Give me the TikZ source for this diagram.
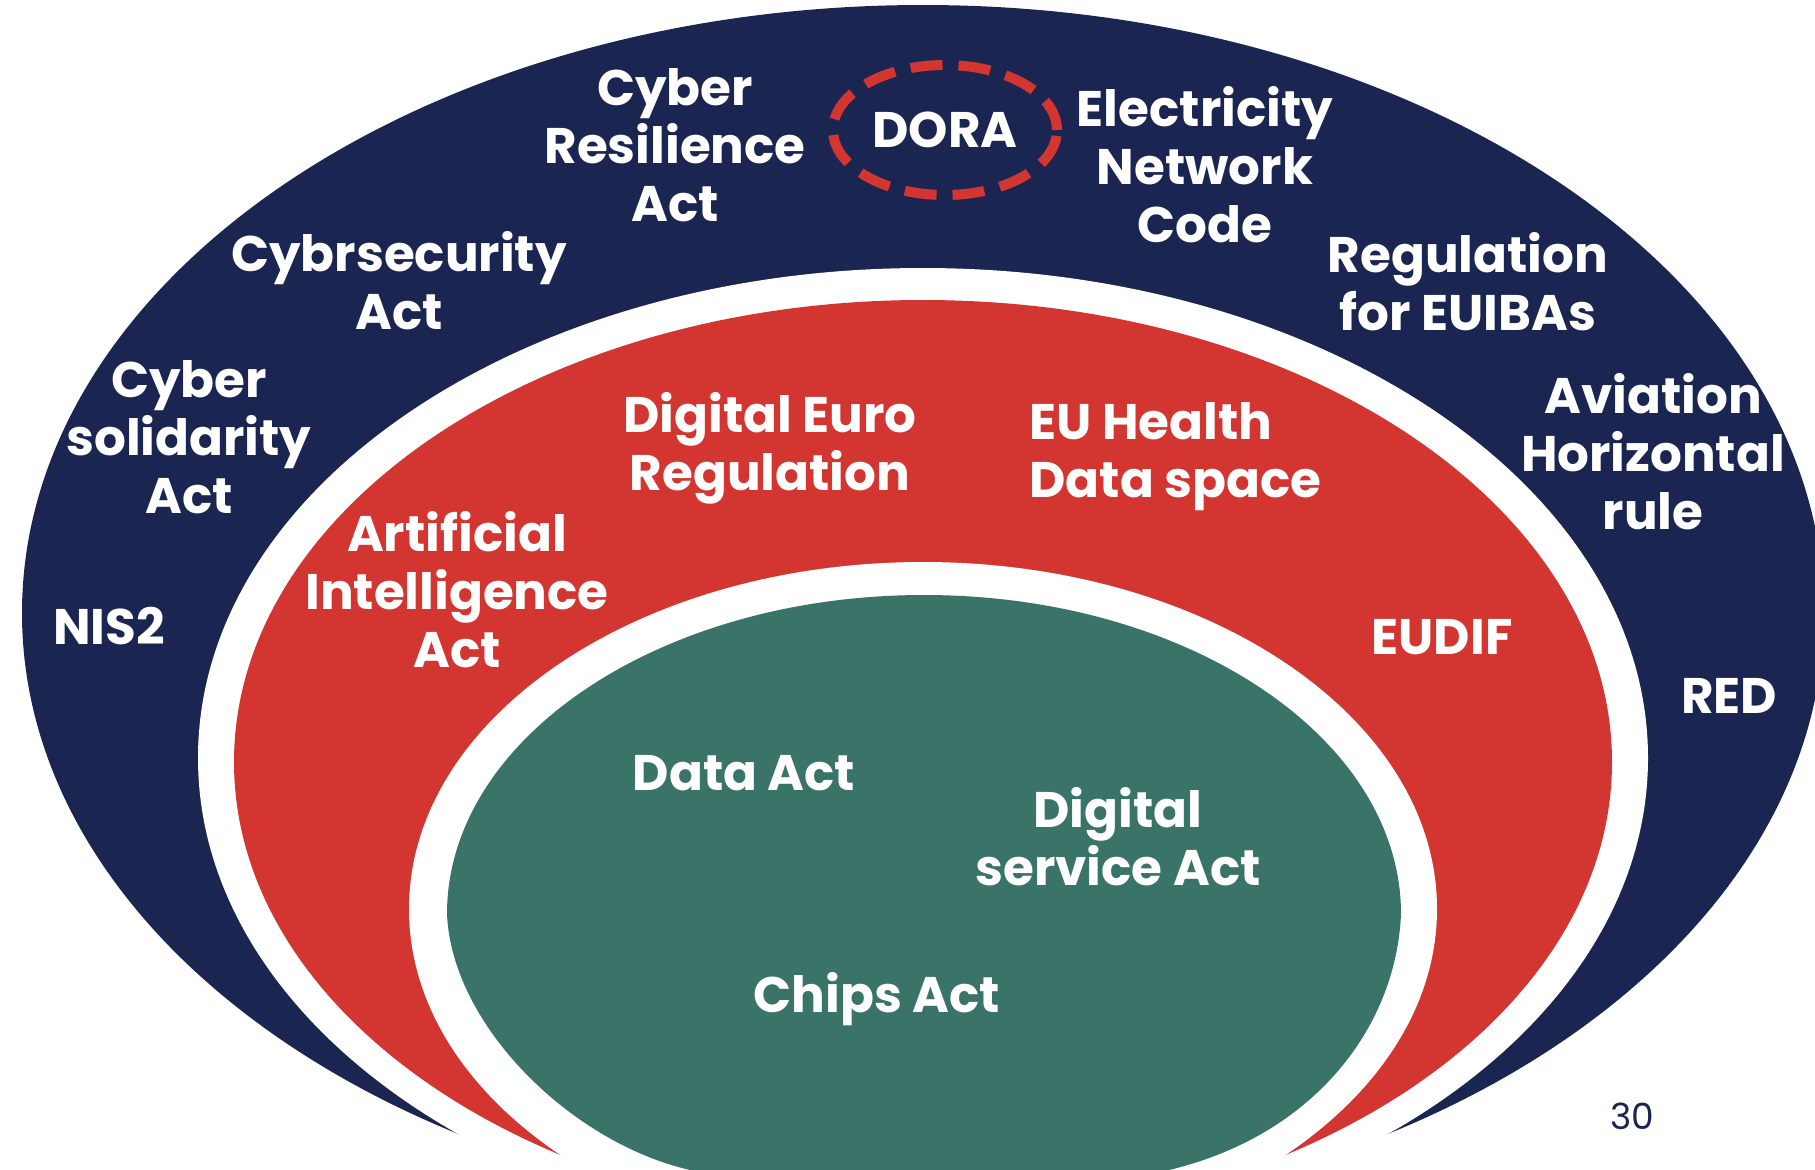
\documentclass[tikz,border=0pt]{standalone}
\usepackage{fontspec}
\setmainfont{Poppins}
\usetikzlibrary{shapes.geometric}
\definecolor{navy}{HTML}{1B2552}
\definecolor{euRed}{HTML}{D33631}
\definecolor{sea}{HTML}{3A7367}
\begin{document}
\begin{tikzpicture}[x=0.5pt,y=-0.5pt,line join=round,
		lbl/.style={text=white,font=\bfseries\fontsize{25}{29}\selectfont,align=center,inner sep=0pt}]
	\useasboundingbox (0,0) rectangle (1815,1169);
	\clip (0,0) rectangle (1815,1169);
	% rings, outside in
	\foreach \c/\cy/\a/\b in {navy/613/901/608,white/758/725/490,euRed/762/689/462,white/909/514/347}{\fill[\c] (923,\cy) ellipse [x radius=\a, y radius=\b];}
	\fill[sea] (447,914) arc [start angle=180, end angle=360, x radius=477, y radius=319]
		.. controls (1396,1030) and (1310,1140) .. (1160,1172)
		-- (700,1172)
		.. controls (580,1150) and (452,1030) .. (447,914) -- cycle;
	% outer ring
	\node[lbl] (cra) at (675,145) {Cyber\\Resilience\\Act};
	\node[lbl,ellipse,draw=euRed,line width=5pt,dash pattern=on 16pt off 8pt,minimum width=112pt,minimum height=65pt] (dora) at (945,130) {DORA};
	\node[lbl] (elec) at (1205,165) {Electricity\\Network\\Code};
	\node[lbl] (euiba) at (1468,282) {Regulation\\for EUIBAs};
	\node[lbl] (avia) at (1653,452) {Aviation\\Horizontal\\rule};
	\node[lbl] (red) at (1729,696) {RED};
	\node[lbl] (cybsec) at (399,281) {Cybrsecurity\\Act};
	\node[lbl] (solid) at (189,437) {Cyber\\solidarity\\Act};
	\node[lbl] (nis) at (109,626) {NIS2};
	% middle ring
	\node[lbl] (euro) at (770,448) {Digital Euro\\Regulation};
	\node[lbl,anchor=west,align=left] (health) at (1029,457) {EU Health\\Data space};
	\node[lbl] (ai) at (457,590) {Artificial\\Intelligence\\Act};
	\node[lbl] (eudif) at (1442,637) {EUDIF};
	% core
	\node[lbl] (data) at (744,773) {Data Act};
	\node[lbl] (dsa) at (1118,837) {Digital\\service Act};
	\node[lbl] (chips) at (877,999) {Chips Act};
	\node[text=navy,font=\fontsize{18}{20}\selectfont] (page) at (1632,1116) {30};
\end{tikzpicture}
\end{document}
